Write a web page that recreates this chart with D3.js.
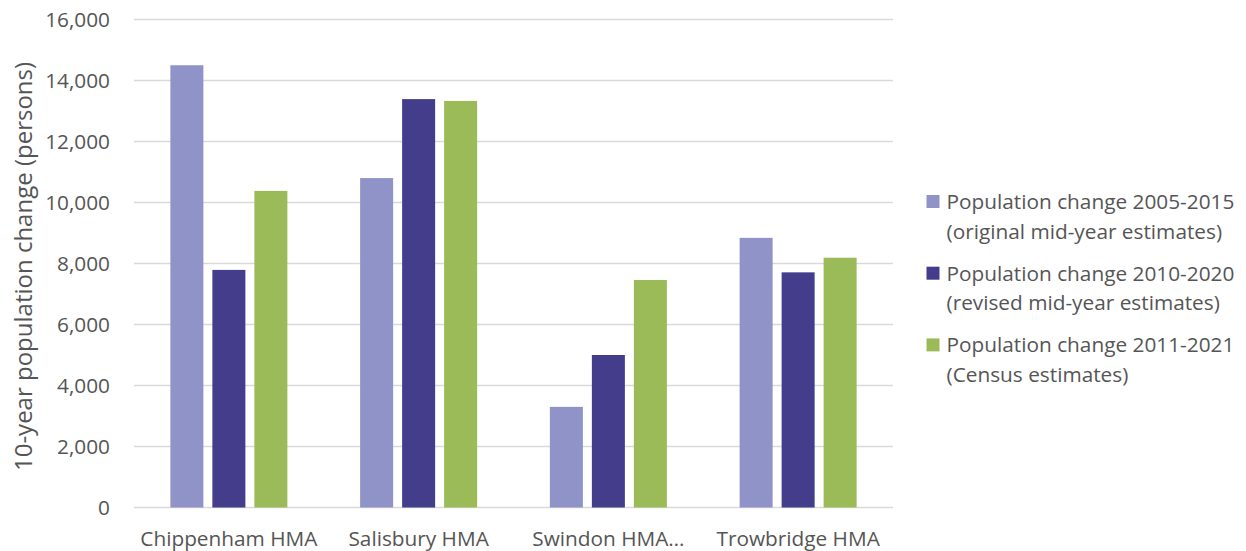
<!DOCTYPE html>
<html>
<head>
<meta charset="utf-8">
<script src="https://cdn.jsdelivr.net/npm/d3@7"></script>
<style>
  html, body { margin: 0; padding: 0; background: #ffffff; }
  svg { display: block; font-family: "Open Sans", sans-serif; }
</style>
</head>
<body>
<svg id="chart" width="1246" height="551"></svg>
<script>
// Housing market areas
const categories = ["Chippenham HMA", "Salisbury HMA", "Swindon HMA…", "Trowbridge HMA"];

// Series labels (two lines each in the legend)
const seriesNames = [
  ["Population change 2005-2015", "(original mid-year estimates)"],
  ["Population change 2010-2020", "(revised mid-year estimates)"],
  ["Population change 2011-2021", "(Census estimates)"]
];
const seriesColors = ["#8f93c7", "#433d8c", "#9bbb59"];

// 10-year population change per HMA, one array per series
const change2005_2015 = [14500, 10800, 3300, 8840];
const change2010_2020 = [7790, 13390, 5000, 7710];
const change2011_2021 = [10380, 13330, 7460, 8190];
const seriesValues = [change2005_2015, change2010_2020, change2011_2021];

const yTicks = [0, 2000, 4000, 6000, 8000, 10000, 12000, 14000, 16000];
const yTitle = "10-year population change (persons)";

const svg = d3.select("#chart");
const plot = { left: 134, right: 893, top: 19.5, bottom: 507.5 };
const textColor = "#555555";
const labelSize = "20.8px";

const y = d3.scaleLinear().domain([0, 16000]).range([plot.bottom, plot.top]);
const x0 = d3.scaleBand().domain(categories).range([plot.left, plot.right]).padding(0);
const x1 = d3.scaleBand().domain(d3.range(seriesValues.length))
  .range([0, x0.bandwidth()]).paddingInner(0.214).paddingOuter(0.866);

// Horizontal gridlines
svg.append("g").selectAll("line").data(yTicks).join("line")
  .attr("x1", plot.left).attr("x2", plot.right)
  .attr("y1", d => y(d)).attr("y2", d => y(d))
  .attr("stroke", "#d9d9d9").attr("stroke-width", 1.3);

// Y axis tick labels
const yAxis = d3.axisLeft(y).tickValues(yTicks).tickSize(0).tickPadding(0)
  .tickFormat(d3.format(","));
const gy = svg.append("g").attr("transform", `translate(${plot.left - 24},0)`).call(yAxis);
gy.select(".domain").remove();
gy.selectAll("text").attr("fill", textColor).attr("font-size", labelSize)
  .attr("font-family", "'Open Sans', sans-serif").attr("dy", "0.34em");

// Bars
const groups = svg.append("g").selectAll("g").data(categories).join("g")
  .attr("transform", d => `translate(${x0(d)},0)`);
groups.selectAll("rect")
  .data((d, i) => seriesValues.map((vals, s) => ({ s, v: vals[i] })))
  .join("rect")
  .attr("x", d => x1(d.s))
  .attr("width", x1.bandwidth())
  .attr("y", d => y(d.v))
  .attr("height", d => y(0) - y(d.v))
  .attr("fill", d => seriesColors[d.s]);

// X axis category labels
const xAxis = d3.axisBottom(x0).tickSize(0).tickPadding(0);
const gx = svg.append("g").attr("transform", `translate(0,${plot.bottom})`).call(xAxis);
gx.select(".domain").remove();
gx.selectAll("text").attr("fill", textColor).attr("font-size", labelSize)
  .attr("font-family", "'Open Sans', sans-serif").attr("dy", null).attr("y", 38);

// Y axis title
svg.append("text")
  .attr("transform", "translate(32,266.5) rotate(-90)")
  .attr("text-anchor", "middle")
  .attr("fill", textColor).attr("font-size", "24px")
  .text(yTitle);

// Legend
const legend = svg.append("g").attr("transform", "translate(926.5,195)");
const items = legend.selectAll("g").data(seriesNames).join("g")
  .attr("transform", (d, i) => `translate(0,${i * 71.7})`);
items.append("rect").attr("width", 13).attr("height", 13)
  .attr("fill", (d, i) => seriesColors[i]);
items.append("text").attr("x", 20).attr("y", 14)
  .attr("fill", textColor).attr("font-size", labelSize)
  .text(d => d[0]);
items.append("text").attr("x", 20).attr("y", 43.5)
  .attr("fill", textColor).attr("font-size", labelSize)
  .text(d => d[1]);
</script>
</body>
</html>
